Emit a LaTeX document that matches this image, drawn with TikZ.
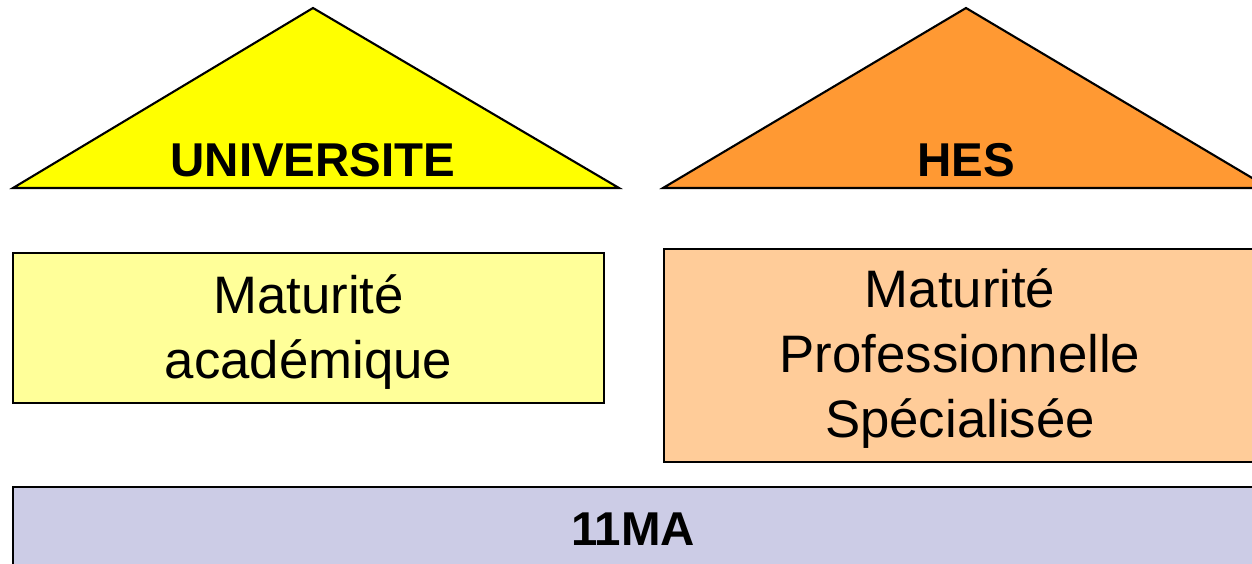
\documentclass[tikz,border=0pt]{standalone}
\usepackage{fontspec}
\setmainfont{Liberation Sans}
\usepackage{tikz}
\definecolor{univyellow}{RGB}{255,255,0}
\definecolor{hesorange}{RGB}{255,153,51}
\definecolor{matyellow}{RGB}{255,255,153}
\definecolor{matorange}{RGB}{255,204,153}
\definecolor{mablue}{RGB}{204,204,230}

\begin{document}
\begin{tikzpicture}[x=0.01cm, y=-0.01cm]
    \tikzstyle{roof} = [draw=black, line width=0.6pt, line join=miter]
    \tikzstyle{rooflabel} = [inner sep=0pt, font=\fontsize{13.5}{16}\selectfont\bfseries]
    \tikzstyle{level} = [rectangle, draw=black, line width=0.6pt, inner sep=0pt]
    \tikzstyle{leveltext} = [inner sep=0pt, align=center, font=\fontsize{15}{18.4}\selectfont]
    \useasboundingbox (0,0) rectangle (1252,564);
    \clip (0,0) rectangle (1252,564);
    % roofs
    \draw[roof, fill=univyellow] (13,188) -- (313,8) -- (619,188) -- cycle;
    \draw[roof, fill=hesorange] (663,188) -- (966,8) -- (1269,188) -- cycle;
    \node[rooflabel] (univ) at (313,160) {UNIVERSITE};
    \node[rooflabel] (hes) at (966,160) {HES};
    % maturites
    \node[level, fill=matyellow, minimum width=5.91cm, minimum height=1.5cm] (acad) at (308.5,328) {};
    \node[leveltext] (acadtext) at ([yshift=-0.04cm]acad.center) {Maturité\\académique};
    \node[level, fill=matorange, minimum width=5.92cm, minimum height=2.13cm] (prof) at (960,355.5) {};
    \node[leveltext] (proftext) at ([yshift=-0.03cm]prof.center) {Maturité\\Professionnelle\\Spécialisée};
    % base
    \node[level, fill=mablue, minimum width=12.4cm, minimum height=0.84cm, font=\fontsize{13.5}{16}\selectfont\bfseries] (ma) at (633,529) {11MA};
\end{tikzpicture}
\end{document}
